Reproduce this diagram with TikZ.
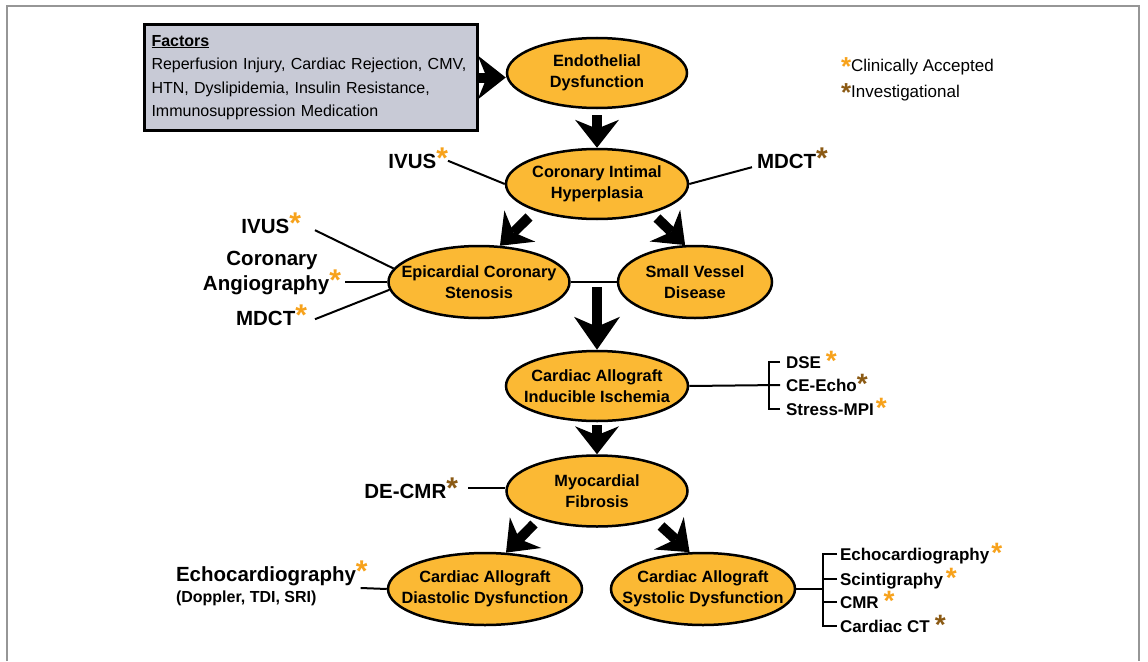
\documentclass[tikz,border=0pt]{standalone}
\usepackage{fontspec}
\setmainfont{Liberation Sans}
\usetikzlibrary{shapes.geometric,arrows.meta}
\definecolor{ellfill}{RGB}{251,185,52}
\definecolor{acc}{RGB}{247,162,27}
\definecolor{inv}{RGB}{139,90,20}
\definecolor{boxfill}{RGB}{200,202,214}
\definecolor{framecol}{RGB}{150,150,150}
\newcommand\myastA[2]{\raisebox{#2}{\color{acc}\bfseries\fontsize{#1}{#1}\selectfont *}}
\newcommand\myastB[2]{\raisebox{#2}{\color{inv}\bfseries\fontsize{#1}{#1}\selectfont *}}
\tikzset{
  ell/.style={ellipse, draw=black, line width=2.5pt, fill=ellfill, inner sep=0pt},
  elltxt/.style={font=\bfseries\fontsize{16.3}{21}\selectfont, align=center, inner sep=0pt},
  biglab/.style={font=\bfseries\fontsize{20.5}{21}\selectfont, inner sep=0pt, outer sep=0pt},
  sublab/.style={font=\bfseries\fontsize{16}{20}\selectfont, inner sep=0pt, outer sep=0pt},
  listlab/.style={font=\bfseries\fontsize{17}{20}\selectfont, inner sep=0pt, outer sep=0pt},
  leglab/.style={font=\fontsize{17}{20}\selectfont, inner sep=0pt, outer sep=0pt},
  fbox/.style={draw=black, line width=3pt, fill=boxfill, align=left,
     font=\fontsize{16}{23.5}\selectfont, inner xsep=7pt, inner ysep=0pt},
  thinline/.style={line width=2pt, black},
  bigarrow/.style={line width=10pt, -{Stealth[length=28pt 0 0, width=44pt 0 0, inset=9pt 0 0, line width=0pt]}},
  hugearrow/.style={line width=10pt, -{Stealth[length=33pt 0 0, width=46pt 0 0, inset=10pt 0 0, line width=0pt]}}
}
\begin{document}
\begin{tikzpicture}[x=1pt,y=-1pt]
\useasboundingbox (0,0) rectangle (1148,661);
\fill[white] (0,0) rectangle (1148,661);
\draw[framecol, line width=1.5pt] (7,661) -- (7,6) -- (1139,6) -- (1139,661);

% factors box
\node[fbox, anchor=north west, minimum width=333pt, minimum height=106pt, text width=319pt] (factors) at (143,23)
  {\textbf{\underline{Factors}}\\Reperfusion Injury, Cardiac Rejection, CMV,\\HTN, Dyslipidemia, Insulin Resistance,\\Immunosuppression Medication};

% ellipses
\node[ell, minimum width=180pt, minimum height=70pt] (endo) at (597,73) {};
\node[elltxt] (endot) at (endo) {Endothelial\\Dysfunction};
\node[ell, minimum width=182pt, minimum height=70pt] (cih) at (597,184) {};
\node[elltxt] (ciht) at (cih) {Coronary Intimal\\Hyperplasia};
\node[ell, minimum width=181pt, minimum height=72pt] (epi) at (479,282) {};
\node[elltxt] (epit) at (epi) {Epicardial Coronary\\Stenosis};
\node[ell, minimum width=154pt, minimum height=72pt] (svd) at (695,282) {};
\node[elltxt] (svdt) at (svd) {Small Vessel\\Disease};
\node[ell, minimum width=182pt, minimum height=70pt] (isch) at (597,386) {};
\node[elltxt] (ischt) at (isch) {Cardiac Allograft\\Inducible Ischemia};
\node[ell, minimum width=181pt, minimum height=71pt] (myo) at (597,491) {};
\node[elltxt] (myot) at (myo) {Myocardial\\Fibrosis};
\node[ell, minimum width=194pt, minimum height=72pt] (dia) at (485,589) {};
\node[elltxt] (diat) at (dia) {Cardiac Allograft\\Diastolic Dysfunction};
\node[ell, minimum width=184pt, minimum height=72pt] (sys) at (703,589) {};
\node[elltxt] (syst) at (sys) {Cardiac Allograft\\Systolic Dysfunction};

% legend
\node[leglab, anchor=base west] (legA) at (841,71) {\myastA{26}{-4.5pt}Clinically Accepted};
\node[leglab, anchor=base west] (legB) at (841,97) {\myastB{26}{-4.5pt}Investigational};

% modality labels
\node[biglab, anchor=base east] (ivusA) at (448,168) {IVUS\myastA{30}{0pt}};
\node[biglab, anchor=base west] (mdctA) at (757,168) {MDCT\myastB{30}{0pt}};
\node[biglab, anchor=base east] (ivusB) at (301,233) {IVUS\myastA{30}{0pt}};
\node[biglab, align=center] (angio) at (272,273) {Coronary\\Angiography\myastA{30}{0pt}};
\node[biglab, anchor=base east] (mdctB) at (307,325) {MDCT\myastA{30}{0pt}};
\node[biglab, anchor=base east] (decmr) at (458,498) {DE-CMR\myastB{30}{0pt}};
\node[biglab, anchor=base west] (echo) at (176,581) {Echocardiography\myastA{30}{0pt}};
\node[sublab, anchor=base west] (echosub) at (176,602) {(Doppler, TDI, SRI)};

\node[listlab, anchor=base west] (dse) at (786,368) {DSE\hspace{5pt}\myastA{28}{-2pt}};
\node[listlab, anchor=base west] (ceecho) at (786,391) {CE-Echo\myastB{28}{-2pt}};
\node[listlab, anchor=base west] (stress) at (786,415) {Stress-MPI\hspace{2pt}\myastA{28}{-2pt}};

\node[listlab, anchor=base west] (sA) at (840,560) {Echocardiography\hspace{2pt}\myastA{28}{-2pt}};
\node[listlab, anchor=base west] (sB) at (840,585) {Scintigraphy\hspace{3pt}\myastA{28}{-2pt}};
\node[listlab, anchor=base west] (sC) at (840,608) {CMR\hspace{5pt}\myastA{28}{-2pt}};
\node[listlab, anchor=base west] (sD) at (840,632) {Cardiac CT\hspace{5pt}\myastB{28}{-2pt}};

% thick arrows
\draw[bigarrow] (factors.east) -- (factors.east -| endo.west);
\coordinate (a2s) at (597,115);
\draw[bigarrow] (a2s) -- (endo.south |- cih.north);
\coordinate (a3s) at (529,217);
\draw[bigarrow] (a3s) -- (epi.60);
\coordinate (a4s) at (657,218);
\draw[bigarrow] (a4s) -- (svd.105);
\coordinate (a5s) at (597,287);
\draw[hugearrow] (a5s) -- (isch.north);
\coordinate (a6s) at (597,425);
\draw[bigarrow] (a6s) -- (myo.north);
\coordinate (a7s) at (534,524);
\draw[bigarrow] (a7s) -- (dia.60);
\coordinate (a8s) at (661,526);
\draw[bigarrow] (a8s) -- (sys.110);

% thin connectors
\draw[thinline] ([yshift=-3pt]ivusA.east) -- (cih.west);
\draw[thinline] ([xshift=-5pt,yshift=1pt]mdctA.south west) -- (cih.east);
\draw[thinline] (epi.east) -- (svd.west);
\draw[thinline] ([xshift=14pt,yshift=3pt]ivusB.south east) -- (epi.171);
\coordinate (angioR) at ([xshift=4pt]angio.east);
\draw[thinline] (angioR |- epi.west) -- (epi.west);
\draw[thinline] ([xshift=8pt,yshift=6pt]mdctB.south east) -- (epi.185);
\coordinate (decmrR) at ([xshift=10pt]decmr.east);
\draw[thinline] (decmrR) -- (decmrR -| myo.west);
\draw[thinline] ([xshift=-7pt,yshift=-7pt]echo.base east) -- (dia.west);

% ischemia bracket
\draw[thinline] (isch.east) -- ([xshift=-6pt,yshift=6pt]ceecho.base west);
\draw[thinline] ([xshift=-6pt,yshift=6pt]dse.base west) -- ++(-11,0) |- ([xshift=-6pt,yshift=6pt]stress.base west);

% systolic bracket
\coordinate (sbr) at (823,589);
\draw[thinline] (sys.east) -- (sbr);
\draw[thinline] ([xshift=-3pt,yshift=6pt]sA.base west) -- ++(-14,0) |- ([xshift=-3pt,yshift=6pt]sD.base west);
\draw[thinline] ([xshift=-3pt,yshift=6pt]sB.base west) -- ++(-14,0);
\draw[thinline] ([xshift=-3pt,yshift=6pt]sC.base west) -- ++(-14,0);
\end{tikzpicture}
\end{document}
